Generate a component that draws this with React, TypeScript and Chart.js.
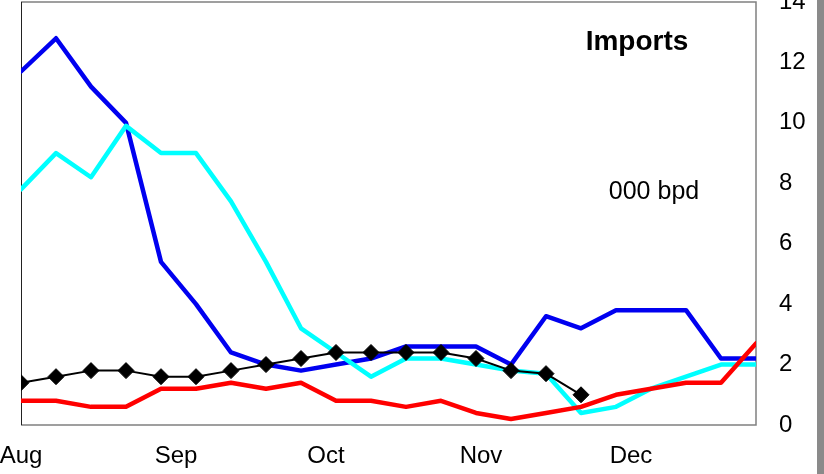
import React, { useEffect, useRef } from "react";
import { Chart, registerables } from "chart.js";

Chart.register(...registerables);

// Weekly observations, as day offsets from 1 August
const weekDay = [0, 7, 14, 21, 28, 35, 42, 49, 56, 63, 70, 77, 84, 91, 98, 105, 112, 119, 126, 133, 140, 147];
const blueSeries = [11.7, 12.8, 11.2, 10.0, 5.4, 4.0, 2.4, 2.0, 1.8, 2.0, 2.2, 2.6, 2.6, 2.6, 2.0, 3.6, 3.2, 3.8, 3.8, 3.8, 2.2, 2.2];
const cyanSeries = [7.8, 9.0, 8.2, 9.9, 9.0, 9.0, 7.4, 5.4, 3.2, 2.4, 1.6, 2.2, 2.2, 2.0, 1.8, 1.7, 0.4, 0.6, 1.2, 1.6, 2.0, 2.0];
const redSeries = [0.8, 0.8, 0.6, 0.6, 1.2, 1.2, 1.4, 1.2, 1.4, 0.8, 0.8, 0.6, 0.8, 0.4, 0.2, 0.4, 0.6, 1.0, 1.2, 1.4, 1.4, 2.7];
const blackSeries = [1.4, 1.6, 1.8, 1.8, 1.6, 1.6, 1.8, 2.0, 2.2, 2.4, 2.4, 2.4, 2.4, 2.2, 1.8, 1.7, 1.0];

// Month tick labels and their day offsets
const monthLabels = ["Aug", "Sep", "Oct", "Nov", "Dec"];
const monthTickDays = [0, 31, 61, 92, 122];
const yTickValues = [0, 2, 4, 6, 8, 10, 12, 14];

const titleText = "Imports";
const unitText = "000 bpd";

const FONT = "'Liberation Sans', Arial, sans-serif";

const toPoints = (vals: number[]) => vals.map((v, i) => ({ x: weekDay[i], y: v }));

const framePlugin = {
  id: "frame",
  beforeDatasetsDraw(chart: any) {
    const { ctx, chartArea: a } = chart;
    ctx.save();
    ctx.strokeStyle = "#808080";
    ctx.lineWidth = 1.5;
    ctx.beginPath();
    ctx.moveTo(a.left, a.top);
    ctx.lineTo(a.right, a.top);
    ctx.lineTo(a.right, a.bottom);
    ctx.lineTo(a.left, a.bottom);
    ctx.stroke();
    ctx.strokeStyle = "#222";
    ctx.lineWidth = 1;
    ctx.beginPath();
    ctx.moveTo(a.left + 0.5, a.top);
    ctx.lineTo(a.left + 0.5, a.bottom);
    ctx.stroke();
    ctx.restore();
  },
};

const textPlugin = {
  id: "labels",
  afterDraw(chart: any) {
    const { ctx } = chart;
    const xs = chart.scales.x;
    const ys = chart.scales.y;
    ctx.save();
    ctx.fillStyle = "#000";
    ctx.textAlign = "center";
    ctx.textBaseline = "alphabetic";
    ctx.font = `bold 28px ${FONT}`;
    ctx.fillText(titleText, xs.getPixelForValue(123.2), ys.getPixelForValue(12.42));
    ctx.font = `25px ${FONT}`;
    ctx.textBaseline = "middle";
    ctx.fillText(unitText, xs.getPixelForValue(126.6), ys.getPixelForValue(7.7));
    ctx.restore();
  },
};

export default function App() {
  const ref = useRef<HTMLCanvasElement | null>(null);

  useEffect(() => {
    document.body.style.margin = "0";
    const canvas = ref.current;
    if (!canvas) return;
    const chart = new Chart(canvas, {
      type: "line",
      data: {
        datasets: [
          {
            data: toPoints(blackSeries),
            borderColor: "#000",
            backgroundColor: "#000",
            borderWidth: 2,
            pointStyle: "rectRot",
            pointRadius: 8,
            pointBorderWidth: 1,
            pointBorderColor: "#000",
            tension: 0,
            order: 0,
          },
          {
            data: toPoints(redSeries),
            borderColor: "#ff0000",
            borderWidth: 4.5,
            pointRadius: 0,
            tension: 0,
            order: 1,
          },
          {
            data: toPoints(cyanSeries),
            borderColor: "#00ffff",
            borderWidth: 4.5,
            pointRadius: 0,
            tension: 0,
            order: 2,
          },
          {
            data: toPoints(blueSeries),
            borderColor: "#0000f0",
            borderWidth: 4.5,
            pointRadius: 0,
            tension: 0,
            order: 3,
          },
        ],
      },
      options: {
        animation: false,
        responsive: true,
        maintainAspectRatio: false,
        layout: { autoPadding: false, padding: { left: 21, top: 2, right: 0, bottom: 0 } },
        plugins: { legend: { display: false }, tooltip: { enabled: false } },
        elements: { line: { borderJoinStyle: "round", borderCapStyle: "round" } },
        scales: {
          x: {
            type: "linear",
            min: weekDay[0],
            max: weekDay[weekDay.length - 1],
            grid: { display: false, drawTicks: false },
            border: { display: false },
            afterBuildTicks: (scale: any) => {
              scale.ticks = monthTickDays.map((v) => ({ value: v }));
            },
            afterFit: (scale: any) => {
              scale.height = 49;
              scale.paddingLeft = 0;
              scale.paddingRight = 0;
            },
            ticks: {
              autoSkip: false,
              maxRotation: 0,
              padding: 17,
              color: "#000",
              font: { family: FONT, size: 24 },
              callback: (v: any) => {
                const i = monthTickDays.indexOf(Number(v));
                return i >= 0 ? monthLabels[i] : "";
              },
            },
          },
          y: {
            position: "right",
            min: 0,
            max: 14,
            grid: { display: false, drawTicks: false },
            border: { display: false },
            afterBuildTicks: (scale: any) => {
              scale.ticks = yTickValues.map((v) => ({ value: v }));
            },
            afterFit: (scale: any) => {
              scale.width = 61;
              scale.paddingTop = 0;
              scale.paddingBottom = 0;
            },
            ticks: {
              padding: 23,
              color: "#000",
              font: { family: FONT, size: 24 },
            },
          },
        },
      },
      plugins: [framePlugin, textPlugin],
    } as any);
    return () => chart.destroy();
  }, []);

  return (
    <div style={{ position: "fixed", left: 0, top: 0, width: 824, height: 474, background: "#fff" }}>
      <div style={{ position: "absolute", left: 0, top: 0, width: 817, height: 474 }}>
        <canvas ref={ref} />
      </div>
      <div style={{ position: "absolute", left: 817, top: 0, width: 7, height: 474, background: "#8a8a8a" }} />
    </div>
  );
}
